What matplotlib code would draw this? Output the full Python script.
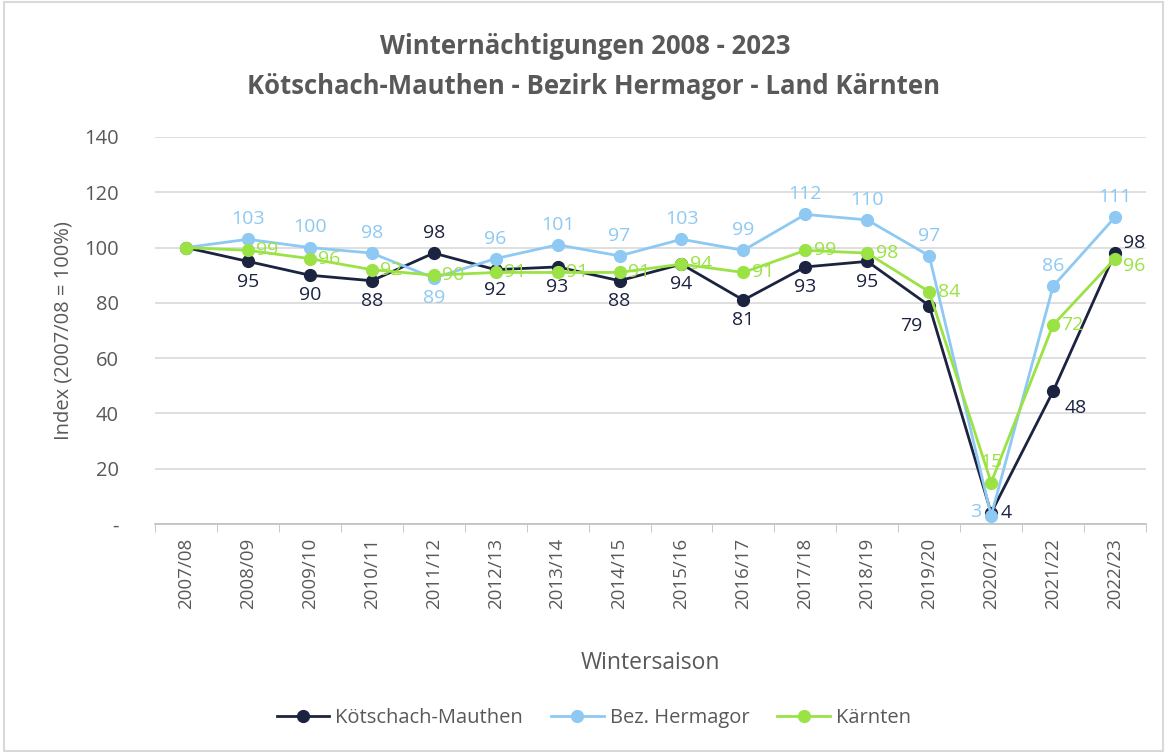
import matplotlib.pyplot as plt
from matplotlib.patches import Rectangle

seasons = ["2007/08", "2008/09", "2009/10", "2010/11", "2011/12", "2012/13",
           "2013/14", "2014/15", "2015/16", "2016/17", "2017/18", "2018/19",
           "2019/20", "2020/21", "2021/22", "2022/23"]
koetschach = [100, 95, 90, 88, 98, 92, 93, 88, 94, 81, 93, 95, 79, 4, 48, 98]
hermagor = [100, 103, 100, 98, 89, 96, 101, 97, 103, 99, 112, 110, 97, 3, 86, 111]
kaernten = [100, 99, 96, 92, 90, 91, 91, 91, 94, 91, 99, 98, 84, 15, 72, 96]
yticks = [0, 20, 40, 60, 80, 100, 120, 140]
yticklabels = ["-", "20", "40", "60", "80", "100", "120", "140"]

c_km = "#1c2340"
c_her = "#8ec9f3"
c_kae = "#9be245"
grey = "#595959"

plt.rcParams['font.family'] = ['Open Sans', 'DejaVu Sans']

fig = plt.figure(figsize=(11.69, 7.53), dpi=100)
ax = fig.add_axes([155 / 1169, 1 - 524 / 753, (1146 - 155) / 1169, (524 - 137) / 753])

x = list(range(len(seasons)))
ax.plot(x, koetschach, color=c_km, lw=2.0, marker='o', ms=8.5, label="Kötschach-Mauthen", zorder=3)
ax.plot(x, hermagor, color=c_her, lw=2.0, marker='o', ms=8.5, label="Bez. Hermagor", zorder=3)
ax.plot(x, kaernten, color=c_kae, lw=2.0, marker='o', ms=8.5, label="Kärnten", zorder=4)

fs = 14


def lab(i, v, dx, dy, ha, va, col):
    ax.annotate(str(v), (i, v), xytext=(dx, dy), textcoords='offset points',
                ha=ha, va=va, color=col, fontsize=fs)


for i in range(1, len(x)):
    # Kötschach-Mauthen
    v = koetschach[i]
    if i == 4:
        lab(i, v, 0, 8, 'center', 'bottom', c_km)
    elif i == 12:
        lab(i, v, -5, -8, 'right', 'top', c_km)
    elif i == 13:
        lab(i, v, 7, 0, 'left', 'center', c_km)
    elif i == 14:
        lab(i, v, 8, -12, 'left', 'center', c_km)
    elif i == 15:
        lab(i, v, 6, 7, 'left', 'center', c_km)
    else:
        lab(i, v, 0, -8, 'center', 'top', c_km)
    # Hermagor
    v = hermagor[i]
    if i == 4:
        lab(i, v, 0, -8, 'center', 'top', c_her)
    elif i == 13:
        lab(i, v, -7, 3, 'right', 'center', c_her)
    else:
        lab(i, v, 0, 8, 'center', 'bottom', c_her)
    # Kärnten
    v = kaernten[i]
    if i == 13:
        lab(i, v, 0, 8, 'center', 'bottom', c_kae)
    elif i == 15:
        lab(i, v, 6, -5, 'left', 'center', c_kae)
    else:
        lab(i, v, 6, 0, 'left', 'center', c_kae)

ax.set_xlim(-0.5, len(x) - 0.5)
ax.set_ylim(0, 140)
ax.set_yticks(yticks)
ax.set_yticklabels(yticklabels)
ax.set_xticks(x)
ax.set_xticklabels(seasons, rotation=90)
ax.set_xticks([i + 0.5 for i in range(-1, len(x))], minor=True)
ax.tick_params(axis='x', which='major', length=0, pad=10, labelsize=13.5, colors=grey)
ax.tick_params(axis='x', which='minor', length=6, color="#bfbfbf")
ax.tick_params(axis='y', length=0, pad=26, labelsize=14.5, colors=grey)
ax.grid(axis='y', color="#d9d9d9", lw=1.2)
ax.set_axisbelow(True)
for s in ['top', 'right', 'left']:
    ax.spines[s].set_visible(False)
ax.spines['bottom'].set_color("#bfbfbf")
ax.spines['bottom'].set_linewidth(1.2)

ax.set_ylabel("Index (2007/08 = 100%)", fontsize=14.5, color=grey, labelpad=8)
ax.set_xlabel("Wintersaison", fontsize=16.5, color=grey, labelpad=30)

fig.text(0.501, 1 - 46 / 753, "Winternächtigungen 2008 - 2023", ha='center', va='center',
         fontsize=18.5, fontweight='bold', color=grey)
fig.text(0.508, 1 - 86 / 753, "Kötschach-Mauthen - Bezirk Hermagor - Land Kärnten", ha='center', va='center',
         fontsize=18.5, fontweight='bold', color=grey)

fig.legend(loc='center', bbox_to_anchor=(0.508, 1 - 718 / 753), ncol=3, frameon=False,
           fontsize=14.5, labelcolor=grey, handlelength=2.6, handletextpad=0.3, columnspacing=1.4)

fig.patches.append(Rectangle((4 / 1169, 2 / 753), 1 - 10 / 1169, 1 - 4 / 753, transform=fig.transFigure,
                             fill=False, edgecolor="#d9d9d9", lw=1.5))

fig.savefig("out.png", dpi=100)
